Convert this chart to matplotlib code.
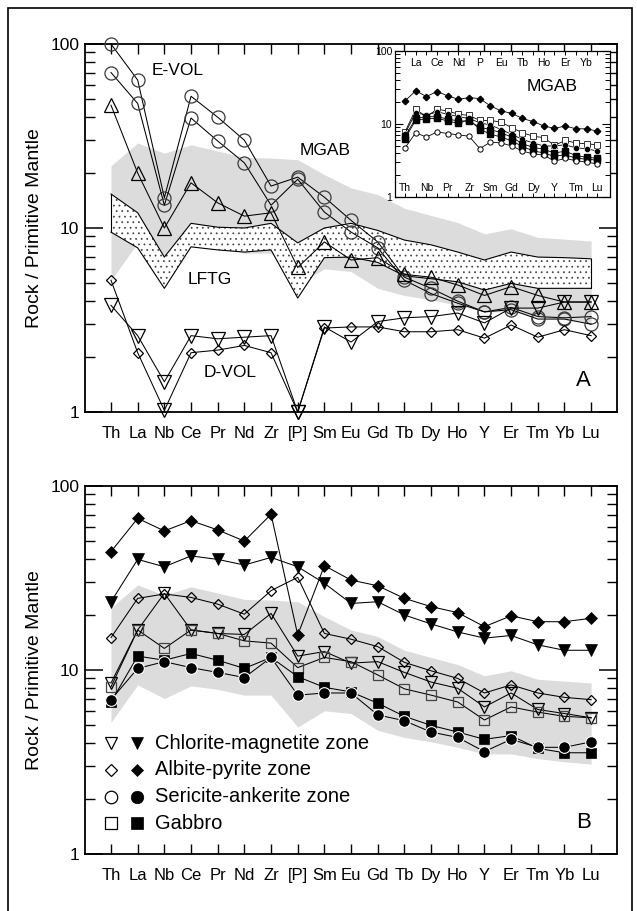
import matplotlib
matplotlib.use('Agg')
import matplotlib.pyplot as plt
import numpy as np
from matplotlib.ticker import FixedLocator, NullFormatter, FixedFormatter
from matplotlib.patches import Rectangle
import matplotlib.transforms as mtransforms

plt.rcParams['font.family'] = ['Liberation Sans', 'DejaVu Sans']
plt.rcParams['hatch.linewidth'] = 0.55

# ---------------- data ----------------
elements = ["Th", "La", "Nb", "Ce", "Pr", "Nd", "Zr", "[P]", "Sm", "Eu", "Gd",
            "Tb", "Dy", "Ho", "Y", "Er", "Tm", "Yb", "Lu"]
inset_elements = ["Th", "La", "Nb", "Ce", "Pr", "Nd", "Zr", "P", "Sm", "Eu", "Gd",
                  "Tb", "Dy", "Ho", "Y", "Er", "Tm", "Yb", "Lu"]
yticks_major = [1, 10, 100]
ytick_labels = ["1", "10", "100"]

# MGAB field (gray)
mgab_upper = [21.8, 29.0, 25.5, 28.3, 26.2, 24.2, 24.0, 23.5, 19.5, 16.5, 15.2,
              12.8, 11.7, 10.7, 9.3, 9.9, 8.9, 8.7, 8.5]
mgab_lower = [5.2, 8.3, 7.0, 8.2, 7.85, 7.3, 7.3, 4.9, 6.0, 5.8, 4.7,
              4.3, 4.07, 3.8, 3.5, 3.5, 3.3, 3.17, 3.08]
# LFTG field (dotted)
lftg_upper = [15.3, 12.1, 6.95, 10.6, 10.1, 10.0, 10.6, 8.3, 10.0, 10.6, 9.7,
              8.6, 8.1, 7.4, 6.7, 7.4, 6.95, 6.9, 6.8]
lftg_lower = [9.5, 7.8, 4.7, 7.9, 7.6, 7.4, 7.6, 4.16, 6.9, 6.95, 6.5,
              5.5, 5.3, 5.1, 4.6, 5.0, 4.7, 4.7, 4.7]

# Panel A: E-VOL and D-VOL samples
evol_circle1 = [100, 63.7, 14.6, 52, 40, 30, 16.9, 18.9, 14.7, 11.0, 8.4,
                5.4, 4.7, 4.0, 3.5, 3.7, 3.3, 3.25, 3.3]
evol_circle2 = [70, 47.5, 13.3, 39.6, 29.7, 22.6, 13.3, 18.4, 12.2, 9.5, 7.8,
                5.2, 4.4, 3.9, 3.5, 3.6, 3.2, 3.2, 3.0]
evol_triangle = [46.5, 19.9, 10.0, 17.6, 13.7, 11.6, 12.1, 6.1, 8.4, 6.7, 6.9,
                 5.6, 5.4, 4.9, 4.3, 4.8, 4.3, 3.96, 3.96]
dvol_triangle = [3.8, 2.6, 1.46, 2.6, 2.5, 2.55, 2.6, 1.0, 2.9, 2.4, 3.1,
                 3.25, 3.3, 3.45, 3.05, 3.67, 3.67, 3.96, 3.96]
dvol_diamond = [5.2, 2.1, 1.02, 2.1, 2.17, 2.3, 2.1, 1.0, 2.86, 2.9, 2.9,
                2.73, 2.73, 2.8, 2.52, 2.97, 2.55, 2.8, 2.6]
dvol_diamond_marker = ["D", "D", "v", "D", "D", "D", "D", "v", "D", "D", "D",
                       "D", "D", "D", "D", "D", "D", "D", "D"]

# Inset (MGAB)
inset_diamond = [20.7, 28.5, 23.8, 27.8, 24.3, 21.8, 23.0, 22.3, 17.7, 15.1, 14.0,
                 11.9, 10.8, 9.4, 8.7, 9.4, 8.6, 8.6, 8.0]
inset_open_square = [7.8, 15.9, 12.6, 15.9, 15.1, 13.6, 13.1, 11.2, 11.2, 10.6, 8.9,
                     7.6, 6.8, 6.5, 5.1, 5.95, 5.5, 5.35, 5.2]
inset_filled_circle = [7.4, 14.3, 13.2, 14.7, 13.6, 12.6, 11.9, 10.4, 9.7, 8.4, 7.2,
                       6.15, 5.5, 5.0, 5.0, 5.2, 4.7, 4.6, 4.25]
inset_filled_square1 = [6.8, 11.9, 12.6, 12.6, 11.7, 11.0, 11.0, 9.0, 8.4, 7.6, 6.6,
                        5.35, 4.8, 4.5, 4.0, 4.25, 3.7, 3.5, 3.4]
inset_filled_square2 = [6.3, 11.3, 11.8, 12.0, 11.0, 10.2, 11.5, 8.4, 7.3, 6.6, 5.9,
                        4.9, 4.3, 4.0, 3.6, 3.8, 3.4, 3.3, 3.2]
inset_open_circle = [4.7, 7.6, 6.6, 7.8, 7.4, 7.1, 6.8, 4.6, 5.65, 5.5, 5.0,
                     4.25, 3.9, 3.75, 3.1, 3.37, 3.15, 3.0, 2.84]

# Panel B: alteration zones
chl_open = [8.5, 16.5, 26.1, 16.5, 15.8, 15.6, 20.3, 11.9, 12.6, 10.9, 11.1,
            9.7, 8.6, 7.95, 6.3, 7.5, 6.1, 5.8, 5.5]
chl_filled = [23.5, 39.9, 36.4, 41.7, 39.9, 37.2, 40.9, 36.4, 29.6, 23.0, 23.5,
              19.9, 17.8, 16.1, 14.9, 15.4, 13.7, 12.8, 12.8]
alb_open = [15.0, 24.5, 25.9, 24.8, 22.8, 20.1, 27.0, 31.9, 15.8, 14.7, 13.4,
            11.0, 9.9, 9.0, 7.5, 8.3, 7.5, 7.1, 6.9]
alb_filled = [44, 66.7, 57, 64.8, 57.7, 50.2, 70.2, 15.5, 36.9, 30.8, 28.7,
              24.5, 22.1, 20.5, 17.2, 19.7, 18.3, 18.3, 19.1]
ser_filled = [6.9, 10.2, 11.1, 10.3, 9.7, 9.1, 11.7, 7.3, 7.5, 7.5, 5.7,
              5.3, 4.6, 4.3, 3.6, 4.2, 3.8, 3.8, 4.07]
gab_open = [8.1, 16.5, 13.1, 16.5, 15.8, 14.4, 14.0, 10.3, 11.7, 11.1, 9.4,
            7.9, 7.3, 6.7, 5.35, 6.3, 5.9, 5.6, 5.5]
gab_filled = [6.7, 11.9, 11.3, 12.3, 11.3, 10.2, 11.7, 9.2, 8.05, 7.6, 6.6,
              5.6, 5.0, 4.6, 4.2, 4.4, 3.75, 3.55, 3.55]

legend_labels = ["Chlorite-magnetite zone", "Albite-pyrite zone",
                 "Sericite-ankerite zone", "Gabbro"]

# ---------------- figure ----------------
W, H = 637, 911
fig = plt.figure(figsize=(W / 100, H / 100), dpi=100)

def px_axes(x0, y0, x1, y1):
    return fig.add_axes([x0 / W, 1 - y1 / H, (x1 - x0) / W, (y1 - y0) / H])

axA = px_axes(85, 44, 617, 412)
axB = px_axes(85, 486, 617, 854)

x = np.arange(len(elements))
GRAY = '#dcdcdc'
LW = 0.75


def style_main(ax):
    ax.set_yscale('log')
    ax.set_ylim(1, 100)
    ax.set_xlim(-0.975, 18.97)
    ax.set_xticks(x)
    ax.set_xticklabels(elements, fontsize=12)
    ax.yaxis.set_major_locator(FixedLocator(yticks_major))
    ax.yaxis.set_major_formatter(FixedFormatter(ytick_labels))
    ax.yaxis.set_minor_locator(FixedLocator(
        [m * d for d in (1, 10) for m in range(2, 10)]))
    ax.yaxis.set_minor_formatter(NullFormatter())
    ax.tick_params(axis='y', which='major', direction='in', length=13, width=1.1,
                   labelsize=12.5, right=True, pad=4)
    ax.tick_params(axis='y', which='minor', direction='in', length=7, width=1.0,
                   right=True)
    ax.tick_params(axis='x', which='major', direction='in', length=7, width=1.0,
                   top=True, pad=10)
    ax.tick_params(axis='x', which='minor', bottom=False, top=False)
    for s in ax.spines.values():
        s.set_linewidth(1.3)


# ---- Panel A ----
axA.fill_between(x, mgab_lower, mgab_upper, color=GRAY, lw=0, zorder=1)
axA.fill_between(x, lftg_lower, lftg_upper, facecolor='white', edgecolor='#444444',
                 hatch='...', lw=0, zorder=2)
axA.plot(x, lftg_upper, color='black', lw=0.8, zorder=3)
axA.plot(x, lftg_lower, color='black', lw=0.8, zorder=3)
axA.plot([x[0], x[0]], [lftg_lower[0], lftg_upper[0]], color='black', lw=0.8, zorder=3)
axA.plot([x[-1], x[-1]], [lftg_lower[-1], lftg_upper[-1]], color='black', lw=0.8, zorder=3)

open_kw = dict(color='black', lw=LW, mfc='none', mew=0.9, zorder=5, clip_on=False)
axA.plot(x, evol_circle1, marker='o', ms=9.4, mec='#3a3a3a', **open_kw)
axA.plot(x, evol_circle2, marker='o', ms=9.4, mec='#3a3a3a', **open_kw)
axA.plot(x, evol_triangle, marker='^', ms=9.5, mec='black', **open_kw)
axA.plot(x, dvol_triangle, marker='v', ms=9.5, mec='black', **open_kw)
axA.plot(x, dvol_diamond, color='black', lw=LW, zorder=5)
for xi, yi, mk in zip(x, dvol_diamond, dvol_diamond_marker):
    axA.plot([xi], [yi], marker=mk, ms=(5.6 if mk == 'D' else 9.5), mfc='none',
             mec='black', mew=0.9, ls='none', zorder=6, clip_on=False)

style_main(axA)
axA.text(2.51, 72, "E-VOL", fontsize=12.5, ha='center', va='center', zorder=7)
axA.text(8.02, 26.5, "MGAB", fontsize=12.5, ha='center', va='center', zorder=7)
axA.text(3.71, 5.28, "LFTG", fontsize=12.5, ha='center', va='center', zorder=7)
axA.text(4.46, 1.63, "D-VOL", fontsize=12.5, ha='center', va='center', zorder=7)
axA.text(17.7, 1.49, "A", fontsize=16, ha='center', va='center', zorder=7)

# ---- Inset ----
axI = px_axes(395, 51, 610, 197)
axI.set_facecolor('white')
ims = dict(color='black', lw=0.6, zorder=5, clip_on=False)
axI.plot(x, inset_diamond, marker='D', ms=3.3, mfc='black', mec='black', **ims)
axI.plot(x, inset_open_square, marker='s', ms=3.8, mfc='white', mec='#333333', mew=0.7, **ims)
axI.plot(x, inset_filled_circle, marker='o', ms=4.4, mfc='black', mec='white', mew=0.4, **ims)
axI.plot(x, inset_filled_square1, marker='s', ms=4.0, mfc='black', mec='black', **ims)
axI.plot(x, inset_filled_square2, marker='s', ms=4.0, mfc='black', mec='black', **ims)
axI.plot(x, inset_open_circle, marker='o', ms=3.8, mfc='white', mec='black', mew=0.7, **ims)
axI.set_yscale('log')
axI.set_ylim(1, 100)
axI.set_xlim(-0.94, 19.2)
axI.set_xticks(x)
axI.set_xticklabels([])
axI.yaxis.set_major_locator(FixedLocator(yticks_major))
axI.yaxis.set_major_formatter(FixedFormatter(ytick_labels))
axI.yaxis.set_minor_locator(FixedLocator([m * d for d in (1, 10) for m in range(2, 10)]))
axI.yaxis.set_minor_formatter(NullFormatter())
axI.tick_params(axis='y', which='major', direction='in', length=6, width=0.8,
                labelsize=7.5, right=True, pad=2)
axI.tick_params(axis='y', which='minor', direction='in', length=3.5, width=0.7, right=True)
axI.tick_params(axis='x', which='major', direction='in', length=3, width=0.7, top=True)
axI.tick_params(axis='x', which='minor', bottom=False, top=False)
for s in axI.spines.values():
    s.set_linewidth(0.9)
trI = mtransforms.blended_transform_factory(axI.transData, axI.transAxes)
for i, lab in enumerate(inset_elements):
    if i % 2 == 0:
        axI.text(i, 0.06, lab, transform=trI, fontsize=7.5, ha='center', va='center')
    else:
        axI.text(i, 0.915, lab, transform=trI, fontsize=7.5, ha='center', va='center')
axI.text(13.8, 33, "MGAB", fontsize=12.5, ha='center', va='center')

# ---- Panel B ----
axB.fill_between(x, mgab_lower, mgab_upper, color=GRAY, lw=0, zorder=1)
bkw = dict(color='black', lw=LW, zorder=5, clip_on=False)
axB.plot(x, alb_open, marker='D', ms=5.6, mfc='none', mec='black', mew=0.9, **bkw)
axB.plot(x, chl_open, marker='v', ms=8.6, mfc='none', mec='black', mew=0.9, **bkw)
axB.plot(x, gab_open, marker='s', ms=7.4, mfc='none', mec='#444444', mew=0.9, **bkw)
axB.plot(x, gab_filled, marker='s', ms=7.6, mfc='black', mec='black', mew=0.5, **bkw)
axB.plot(x, ser_filled, marker='o', ms=8.4, mfc='black', mec='white', mew=0.8, **bkw)
axB.plot(x, chl_filled, marker='v', ms=8.8, mfc='black', mec='black', mew=0.5, **bkw)
axB.plot(x, alb_filled, marker='D', ms=6.4, mfc='black', mec='black', mew=0.5, **bkw)
style_main(axB)
axB.text(17.7, 1.49, "B", fontsize=16, ha='center', va='center', zorder=7)

# legend (hand laid)
leg_rows = [0.3016, 0.2283, 0.155, 0.0842]
leg_open = [dict(marker='v', ms=9.0), dict(marker='D', ms=6.0),
            dict(marker='o', ms=9.0), dict(marker='s', ms=8.0)]
for yr, lab, mk in zip(leg_rows, legend_labels, leg_open):
    axB.plot([0.0489], [yr], transform=axB.transAxes, ls='none', mfc='white',
             mec='black', mew=0.9, zorder=7, **mk)
    axB.plot([0.0977], [yr], transform=axB.transAxes, ls='none', mfc='black',
             mec='black', mew=0.5, zorder=7, **mk)
    axB.text(0.1316, yr, lab, transform=axB.transAxes, fontsize=14.5,
             ha='left', va='center', zorder=7)

# y labels
fig.text(35 / W, 1 - 228 / H, "Rock / Primitive Mantle", rotation=90,
         fontsize=14, ha='center', va='center')
fig.text(35 / W, 1 - 670 / H, "Rock / Primitive Mantle", rotation=90,
         fontsize=14, ha='center', va='center')

# outer frame
fig.patches.append(Rectangle((8 / W, -0.02), (632 - 8) / W, 1.02 - 8 / H,
                             transform=fig.transFigure, fill=False,
                             edgecolor='black', lw=1.2))

fig.savefig('out.png', dpi=100)
